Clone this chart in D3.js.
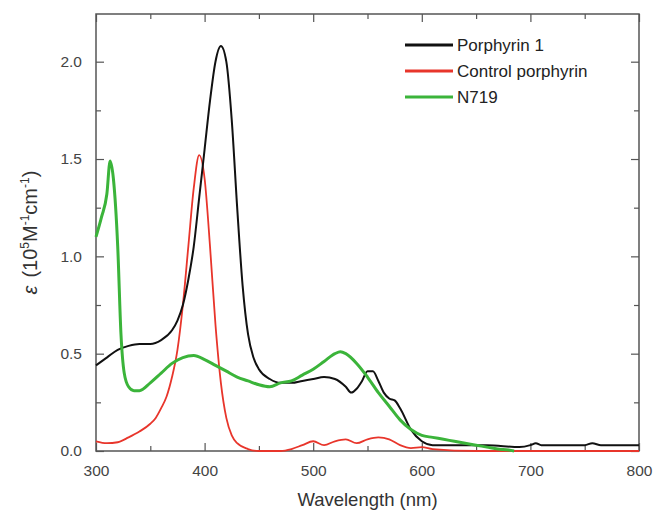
<!DOCTYPE html>
<html>
<head>
<meta charset="utf-8">
<script src="https://cdn.jsdelivr.net/npm/d3@7"></script>
<style>
  body { margin: 0; background: #fff; }
  svg { font-family: "Liberation Sans", Arial, sans-serif; }
</style>
</head>
<body>
<div class="chart"></div>
<script>
// wavelength (nm) / epsilon (10^5 M^-1 cm^-1)
var porphyrinX = [300,310,320,330,340,350,360,370,375,380,385,390,395,400,405,410,415,420,425,430,435,440,445,450,460,470,480,490,500,510,520,530,535,540,545,550,555,560,565,570,575,580,590,600,610,620,640,660,690,700,705,710,750,757,765,800];
var porphyrinY = [0.44,0.48,0.52,0.54,0.55,0.55,0.57,0.62,0.67,0.75,0.88,1.05,1.30,1.55,1.80,2.00,2.08,2.00,1.70,1.25,0.85,0.60,0.48,0.42,0.37,0.35,0.35,0.36,0.37,0.38,0.37,0.33,0.30,0.32,0.36,0.41,0.41,0.36,0.30,0.27,0.26,0.22,0.11,0.05,0.03,0.03,0.03,0.03,0.02,0.03,0.04,0.03,0.03,0.04,0.03,0.03];

var controlX = [300,310,320,330,340,350,355,360,365,370,375,380,385,390,395,400,405,410,415,420,425,430,440,450,470,480,490,500,510,520,530,540,550,560,570,580,590,600,610,650,800];
var controlY = [0.05,0.04,0.045,0.07,0.10,0.14,0.17,0.22,0.28,0.38,0.52,0.75,1.05,1.35,1.52,1.40,1.05,0.65,0.35,0.17,0.08,0.04,0.01,0.0,0.0,0.01,0.03,0.05,0.03,0.05,0.06,0.04,0.06,0.07,0.06,0.03,0.015,0.02,0.01,0.0,0.0];

var n719X = [300,305,310,313,316,320,323,326,330,335,340,350,360,370,380,390,400,410,420,430,440,450,460,470,480,490,500,510,520,525,530,540,550,560,570,580,590,600,610,620,630,640,650,660,670,680,685];
var n719Y = [1.10,1.20,1.32,1.49,1.40,1.05,0.60,0.40,0.33,0.31,0.31,0.35,0.40,0.45,0.48,0.49,0.47,0.44,0.41,0.38,0.36,0.34,0.33,0.35,0.36,0.39,0.42,0.46,0.50,0.51,0.50,0.45,0.38,0.30,0.23,0.16,0.11,0.08,0.07,0.06,0.05,0.04,0.03,0.02,0.01,0.005,0.0];

var seriesNames = ["Porphyrin 1", "Control porphyrin", "N719"];
var seriesColors = ["#111111", "#e8352b", "#3bb43a"];
var seriesWidths = [2, 1.8, 3];

var xTicks = [300, 400, 500, 600, 700, 800];
var yTicks = [0.0, 0.5, 1.0, 1.5, 2.0];

var width = 653, height = 511;
var margin = {left: 96, right: 14, top: 14, bottom: 60};

var svg = d3.select(".chart").append("svg")
  .attr("width", width).attr("height", height);

var x = d3.scaleLinear().domain([300, 800]).range([margin.left, width - margin.right]);
var y = d3.scaleLinear().domain([0, 2.245]).range([height - margin.bottom, margin.top]);

var x0 = x.range()[0], x1 = x.range()[1], y0 = y.range()[0], y1 = y.range()[1];
var axisColor = "#555";

// minor ticks (inward)
var xMinor = d3.range(350, 800, 100);
var yMinor = d3.range(0.25, 2.25, 0.5);

// bottom axis
svg.append("g").attr("transform", "translate(0," + y0 + ")")
  .call(d3.axisBottom(x).tickValues(xTicks).tickSize(-8).tickPadding(14).tickFormat(d3.format("d")));
// top axis
svg.append("g").attr("transform", "translate(0," + y1 + ")")
  .call(d3.axisTop(x).tickValues(xTicks).tickSize(-8).tickFormat(""));
// left axis
svg.append("g").attr("transform", "translate(" + x0 + ",0)")
  .call(d3.axisLeft(y).tickValues(yTicks).tickSize(-8).tickPadding(14).tickFormat(d3.format(".1f")));
// right axis
svg.append("g").attr("transform", "translate(" + x1 + ",0)")
  .call(d3.axisRight(y).tickValues(yTicks).tickSize(-8).tickFormat(""));

svg.append("g").attr("transform", "translate(0," + y0 + ")")
  .call(d3.axisBottom(x).tickValues(xMinor).tickSize(-5).tickFormat(""));
svg.append("g").attr("transform", "translate(0," + y1 + ")")
  .call(d3.axisTop(x).tickValues(xMinor).tickSize(-5).tickFormat(""));
svg.append("g").attr("transform", "translate(" + x0 + ",0)")
  .call(d3.axisLeft(y).tickValues(yMinor).tickSize(-5).tickFormat(""));
svg.append("g").attr("transform", "translate(" + x1 + ",0)")
  .call(d3.axisRight(y).tickValues(yMinor).tickSize(-5).tickFormat(""));

svg.selectAll(".domain").remove();
svg.selectAll(".tick line").attr("stroke", axisColor).attr("stroke-width", 1.2);
svg.selectAll(".tick text").attr("fill", "#444").style("font-size", "15.5px")
  .style("font-family", "'Liberation Sans', Arial, sans-serif");

// frame
svg.append("rect")
  .attr("x", x0).attr("y", y1).attr("width", x1 - x0).attr("height", y0 - y1)
  .attr("fill", "none").attr("stroke", axisColor).attr("stroke-width", 1.5);

// curves
var allSeries = [
  {x: porphyrinX, y: porphyrinY},
  {x: controlX, y: controlY},
  {x: n719X, y: n719Y}
];

var line = d3.line()
  .x(function(d) { return x(d[0]); })
  .y(function(d) { return y(d[1]); })
  .curve(d3.curveMonotoneX);

// draw in order: control, porphyrin, N719 on top
[1, 0, 2].forEach(function(i) {
  var pts = allSeries[i].x.map(function(v, j) { return [v, allSeries[i].y[j]]; });
  svg.append("path")
    .datum(pts)
    .attr("d", line)
    .attr("fill", "none")
    .attr("stroke", seriesColors[i])
    .attr("stroke-width", seriesWidths[i])
    .attr("stroke-linejoin", "round");
});

// legend
var legend = svg.append("g");
seriesNames.forEach(function(name, i) {
  var ly = 45 + i * 26;
  legend.append("line")
    .attr("x1", 405).attr("x2", 453).attr("y1", ly).attr("y2", ly)
    .attr("stroke", seriesColors[i]).attr("stroke-width", 3);
  legend.append("text")
    .attr("x", 457).attr("y", ly + 6)
    .attr("fill", "#222").style("font-size", "17px")
    .text(name);
});

// axis labels
svg.append("text")
  .attr("x", (x0 + x1) / 2).attr("y", 506)
  .attr("text-anchor", "middle")
  .attr("fill", "#333").style("font-size", "18.5px")
  .text("Wavelength (nm)");

var yl = svg.append("text")
  .attr("transform", "translate(37," + ((y0 + y1) / 2) + ") rotate(-90)")
  .attr("text-anchor", "middle")
  .attr("fill", "#333").style("font-size", "20px");
yl.append("tspan").style("font-style", "italic").text("\u03b5");
yl.append("tspan").attr("dx", 8).text("(10");
yl.append("tspan").attr("dy", -8).style("font-size", "12px").text("5");
yl.append("tspan").attr("dy", 8).text("M");
yl.append("tspan").attr("dy", -8).style("font-size", "12px").text("-1");
yl.append("tspan").attr("dy", 8).text("cm");
yl.append("tspan").attr("dy", -8).style("font-size", "12px").text("-1");
yl.append("tspan").attr("dy", 8).text(")");
</script>
</body>
</html>
